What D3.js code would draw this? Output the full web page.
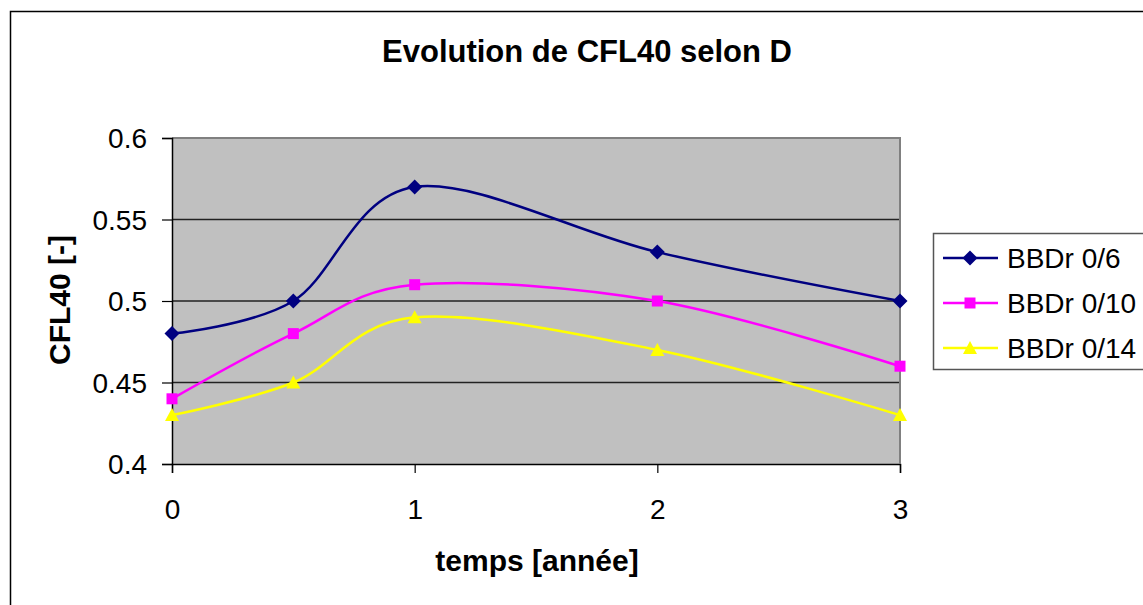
<!DOCTYPE html>
<html>
<head>
<meta charset="utf-8">
<script src="https://cdn.jsdelivr.net/npm/d3@7"></script>
<style>
  html, body { margin: 0; padding: 0; background: #fff; }
  svg { display: block; font-family: "Liberation Sans", Arial, sans-serif; }
</style>
</head>
<body>
<svg id="chart" width="1143" height="605"></svg>
<script>
const chartTitle = "Evolution de CFL40 selon D";
const xTitle = "temps [année]";
const yTitle = "CFL40 [-]";
const xValues = [0, 0.5, 1, 2, 3];
const xTicks = [0, 1, 2, 3];
const yTicks = [0.4, 0.45, 0.5, 0.55, 0.6];
const seriesNames = ["BBDr 0/6", "BBDr 0/10", "BBDr 0/14"];
const seriesA = [0.48, 0.50, 0.57, 0.53, 0.50];
const seriesB = [0.44, 0.48, 0.51, 0.50, 0.46];
const seriesC = [0.43, 0.45, 0.49, 0.47, 0.43];

const colors = ["#000080", "#FF00FF", "#FFFF00"];
const markers = ["diamond", "square", "triangle"];
const seriesValues = [seriesA, seriesB, seriesC];

const svg = d3.select("#chart");
const plot = { left: 172, right: 900, top: 138, bottom: 464 };

// outer chart frame
svg.append("rect").attr("x", 10.5).attr("y", 11.5).attr("width", 1200).attr("height", 700)
  .attr("fill", "#fff").attr("stroke", "#000").attr("stroke-width", 1.5);

const x = d3.scaleLinear().domain([0, 3]).range([plot.left, plot.right]);
const y = d3.scaleLinear().domain([0.4, 0.6]).range([plot.bottom, plot.top]);

// plot background
svg.append("rect").attr("x", plot.left).attr("y", plot.top)
  .attr("width", plot.right - plot.left).attr("height", plot.bottom - plot.top)
  .attr("fill", "#C0C0C0");

// gridlines
svg.append("g").selectAll("line").data(yTicks.filter(v => v > 0.4 && v < 0.6)).join("line")
  .attr("x1", plot.left).attr("x2", plot.right)
  .attr("y1", d => y(d)).attr("y2", d => y(d))
  .attr("stroke", "#222").attr("stroke-width", 1.5);

// top and right border (gray)
svg.append("path")
  .attr("d", `M${plot.left},${plot.top}H${plot.right}V${plot.bottom}`)
  .attr("fill", "none").attr("stroke", "#808080").attr("stroke-width", 2);

// y axis
const yAxis = svg.append("g").attr("transform", `translate(${plot.left},0)`)
  .call(d3.axisLeft(y).tickValues(yTicks).tickSize(10).tickPadding(15)
    .tickFormat(d => String(+d.toFixed(2))));
yAxis.select(".domain").attr("stroke", "#000").attr("stroke-width", 1.5);
yAxis.selectAll(".tick line").attr("stroke", "#000").attr("stroke-width", 1.2);
yAxis.selectAll(".tick text").attr("font-size", 28).attr("fill", "#000")
  .attr("font-family", "Liberation Sans, Arial, sans-serif").attr("dy", "0.35em");

// x axis
const xAxis = svg.append("g").attr("transform", `translate(0,${plot.bottom})`)
  .call(d3.axisBottom(x).tickValues(xTicks).tickSize(9).tickPadding(26)
    .tickFormat(d3.format("d")));
xAxis.select(".domain").attr("stroke", "#000").attr("stroke-width", 1.5);
xAxis.selectAll(".tick line").attr("stroke", "#000").attr("stroke-width", 1.2);
xAxis.selectAll(".tick text").attr("font-size", 28).attr("fill", "#000")
  .attr("font-family", "Liberation Sans, Arial, sans-serif");

// redraw right border over x-axis tail
svg.append("line").attr("x1", plot.right).attr("x2", plot.right)
  .attr("y1", plot.top).attr("y2", plot.bottom)
  .attr("stroke", "#808080").attr("stroke-width", 2);

// series lines
const line = d3.line().x(d => x(d[0])).y(d => y(d[1])).curve(d3.curveCardinal.tension(0));

function markerPath(m) {
  if (m === "diamond") return "M0,-7.5L7.5,0L0,7.5L-7.5,0Z";
  if (m === "square") return "M-5.5,-5.5H5.5V5.5H-5.5Z";
  return "M0,-7L7,6H-7Z";
}

seriesValues.forEach((vals, i) => {
  const pts = xValues.map((xv, j) => [xv, vals[j]]);
  svg.append("path").datum(pts).attr("d", line)
    .attr("fill", "none").attr("stroke", colors[i]).attr("stroke-width", 2.5);
});
seriesValues.forEach((vals, i) => {
  const pts = xValues.map((xv, j) => [xv, vals[j]]);
  svg.append("g").selectAll("path").data(pts).join("path")
    .attr("transform", d => `translate(${x(d[0])},${y(d[1])})`)
    .attr("d", markerPath(markers[i]))
    .attr("fill", colors[i]);
});

// title
svg.append("text").attr("x", 587).attr("y", 62).attr("text-anchor", "middle")
  .attr("font-size", 31).attr("font-weight", "bold").text(chartTitle);

// axis titles
svg.append("text").attr("x", 537).attr("y", 571).attr("text-anchor", "middle")
  .attr("font-size", 30).attr("font-weight", "bold").text(xTitle);
svg.append("text").attr("transform", "translate(70,300) rotate(-90)")
  .attr("text-anchor", "middle").attr("font-size", 30).attr("font-weight", "bold").text(yTitle);

// legend
const legend = svg.append("g");
legend.append("rect").attr("x", 933.5).attr("y", 233.5).attr("width", 260).attr("height", 136)
  .attr("fill", "#fff").attr("stroke", "#555").attr("stroke-width", 1.5);
const legendY = [258, 303, 348];
seriesNames.forEach((name, i) => {
  const g = legend.append("g").attr("transform", `translate(0,${legendY[i]})`);
  g.append("line").attr("x1", 943).attr("x2", 998).attr("y1", 0).attr("y2", 0)
    .attr("stroke", colors[i]).attr("stroke-width", 2.5);
  g.append("path").attr("transform", `translate(970,0)`)
    .attr("d", markerPath(markers[i]))
    .attr("fill", colors[i]);
  g.append("text").attr("x", 1007).attr("y", 0).attr("dy", "0.35em")
    .attr("font-size", 28).attr("fill", "#000").text(name);
});
</script>
</body>
</html>
